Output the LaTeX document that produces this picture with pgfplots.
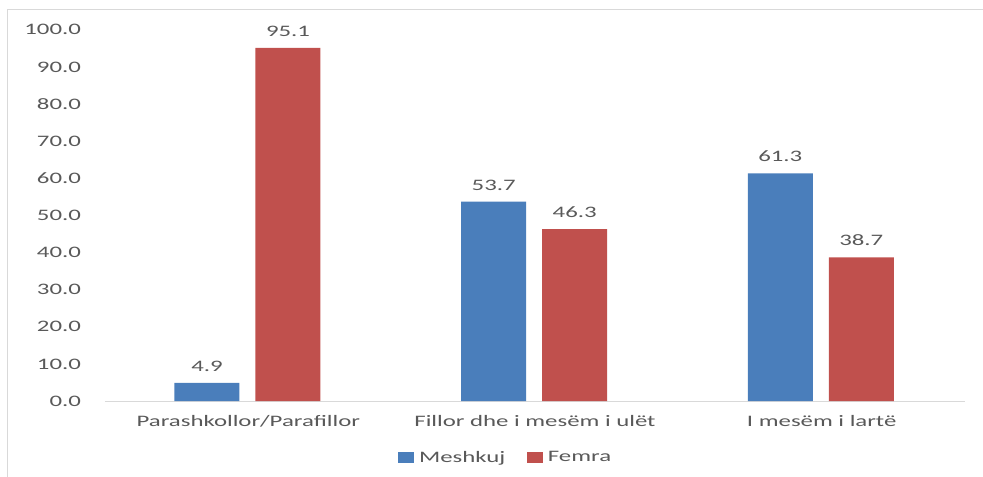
\documentclass[border=0pt]{standalone}
\usepackage{pgfplots}
\pgfplotsset{compat=1.18}
\usepackage{fontspec}
\setmainfont{Carlito}[FakeStretch=1.55]

\definecolor{mblue}{HTML}{4A7EBB}
\definecolor{fred}{HTML}{C0504D}
\definecolor{txt}{HTML}{595959}
\definecolor{lgray}{HTML}{D9D9D9}

\begin{document}
\begin{tikzpicture}
\begin{axis}[
    at={(0,0)}, anchor=south west,
    scale only axis,
    width=645pt, height=278.4pt,
    ybar,
    bar width=48.75pt,
    xmin=-0.5, xmax=2.5,
    ymin=0, ymax=100,
    xtick={0,1,2},
    xticklabels={Parashkollor/Parafillor, Fillor dhe i mesëm i ulët, I mesëm i lartë},
    ytick={0,10,...,100},
    axis x line*=bottom,
    axis y line*=left,
    x axis line style={draw=lgray, line width=0.75pt},
    y axis line style={draw=none},
    major tick length=0pt,
    /pgf/number format/assume math mode=true,
    yticklabel style={/pgf/number format/fixed, /pgf/number format/fixed zerofill,
        /pgf/number format/precision=1, xshift=-14.5pt},
    ticklabel style={font=\fontsize{12}{14}\selectfont, text=txt},
    xticklabel style={yshift=-7pt},
    nodes near coords={\pgfmathprintnumber[fixed,fixed zerofill,precision=1]{\pgfplotspointmeta}},
    every node near coord/.append style={font=\fontsize{12}{14}\selectfont, text=txt, yshift=5pt},
    legend style={draw=none, at={(0.466,-0.153)}, anchor=center,
        font=\fontsize{12}{14}\selectfont, text=txt, legend columns=-1,
        /tikz/every odd column/.append style={column sep=2pt},
        /tikz/every even column/.append style={column sep=14pt}},
    legend image code/.code={\fill[#1] (0pt,-4.1pt) rectangle (12pt,4.1pt);},
]
\addplot[fill=mblue, draw=none, bar shift=-31pt] coordinates {(0,4.9) (1,53.7) (2,61.3)};
\addplot[fill=fred, draw=none, bar shift=29.75pt] coordinates {(0,95.1) (1,46.3) (2,38.7)};
\legend{Meshkuj, Femra}
\end{axis}
\pgfresetboundingbox
\useasboundingbox (-78.75pt,-56.25pt) rectangle (658.5pt,300.75pt);
\draw[lgray, line width=0.75pt] (-72.75pt,-70pt) -- (-72.75pt,293.25pt) -- (680pt,293.25pt);
\end{tikzpicture}
\end{document}
